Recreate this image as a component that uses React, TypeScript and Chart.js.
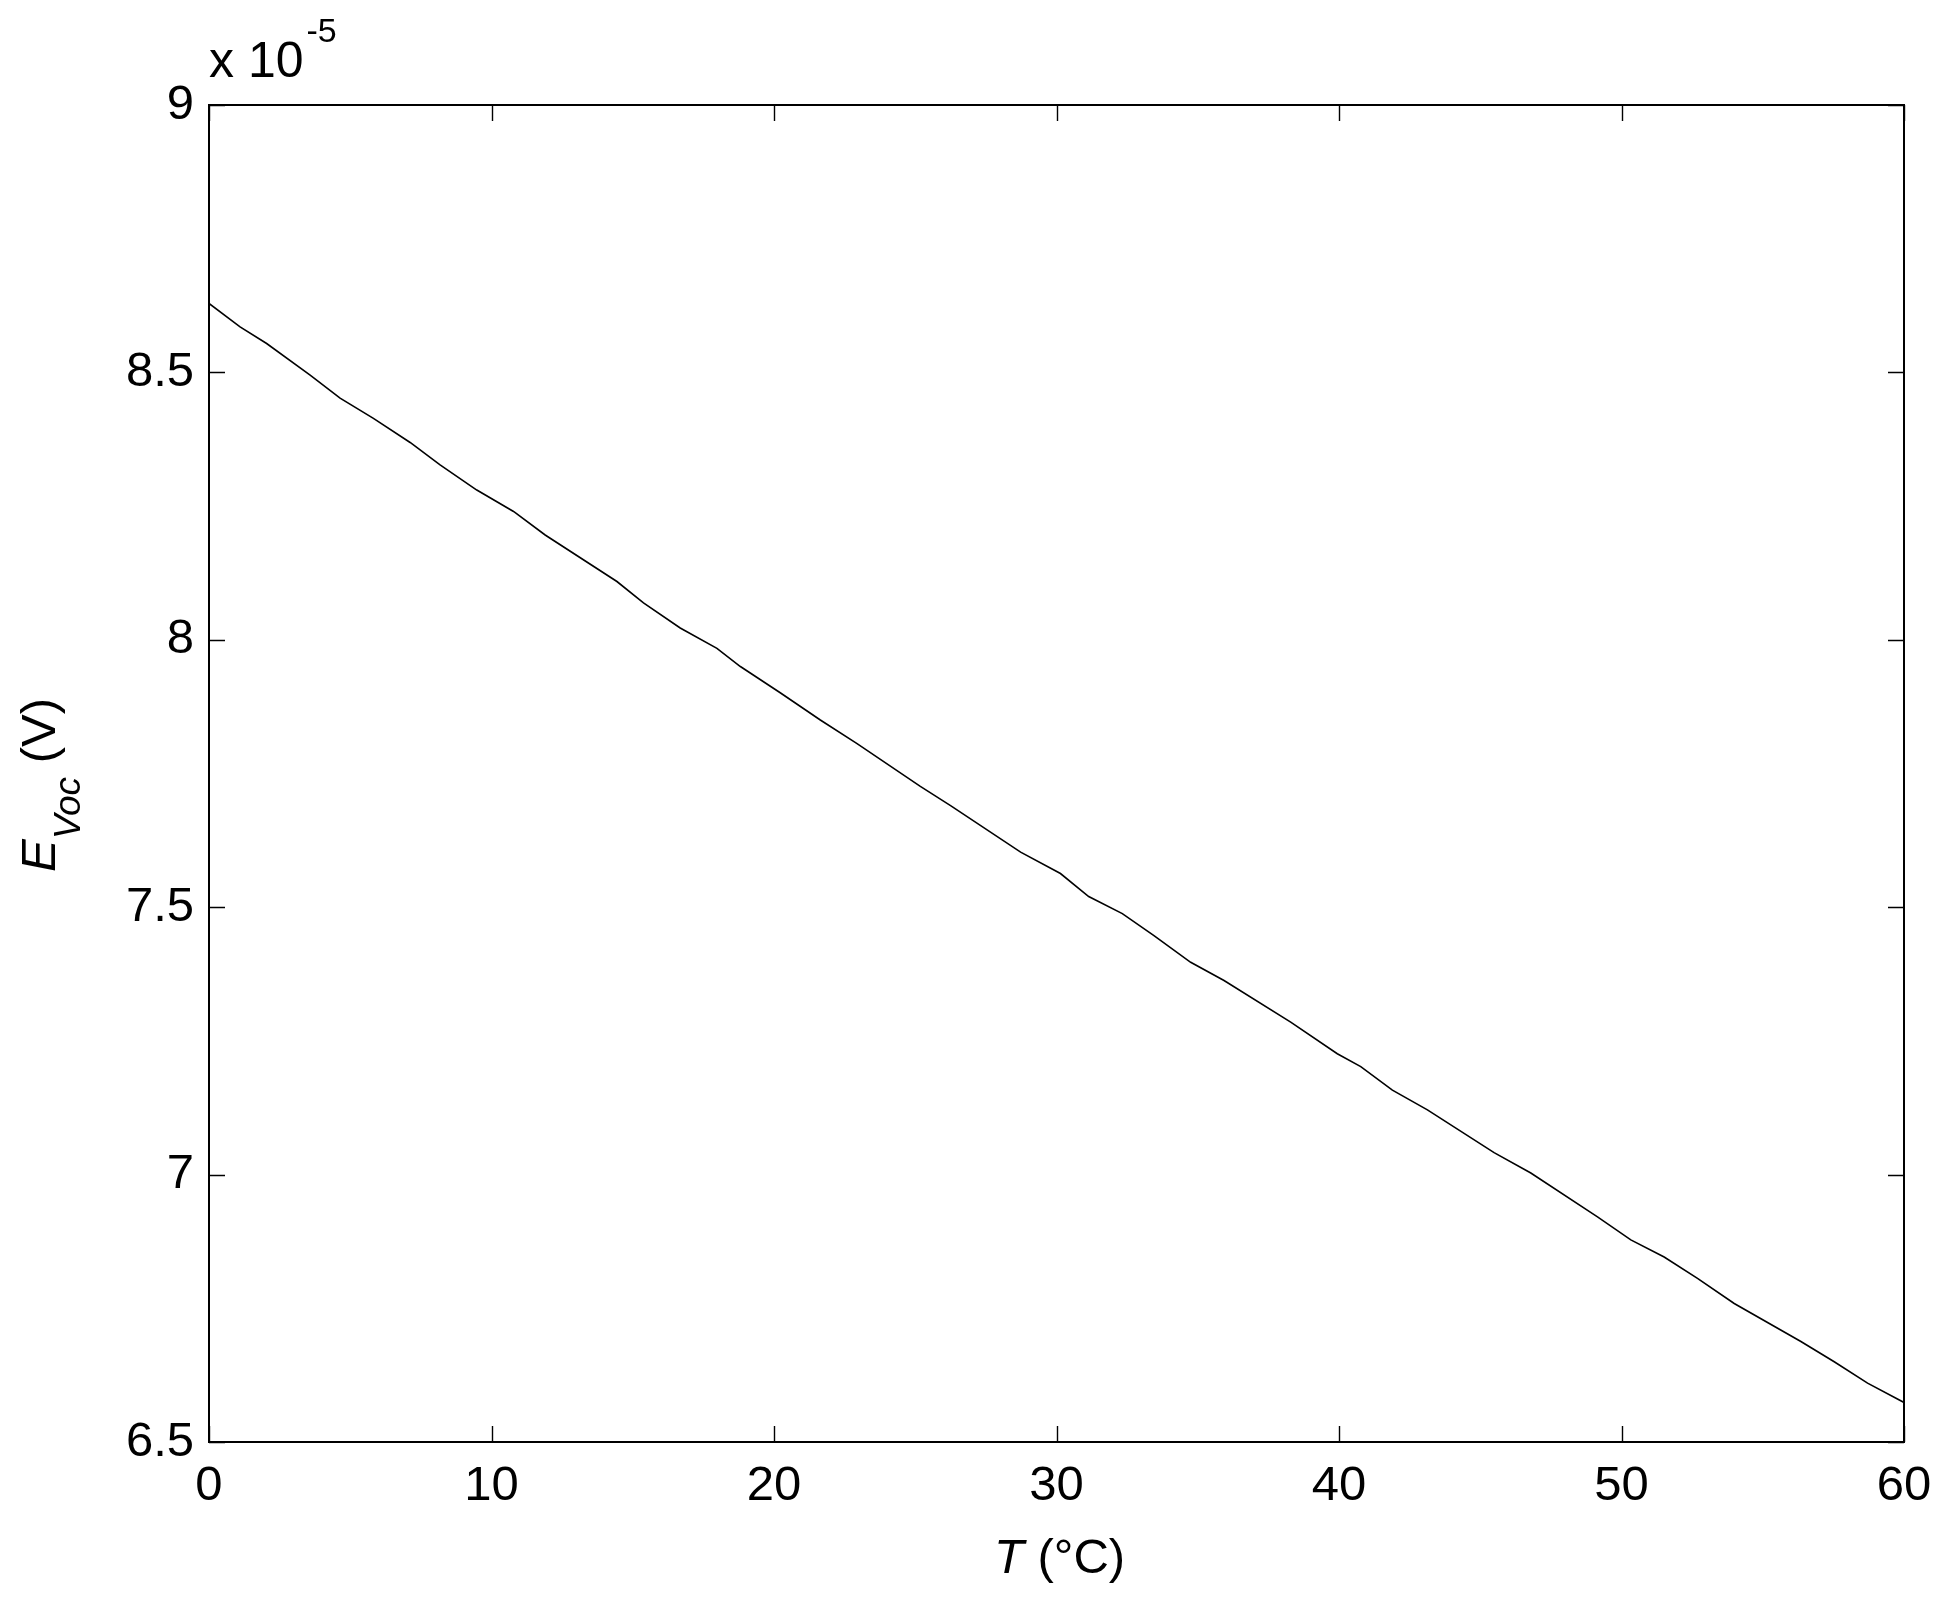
import React, { useEffect, useRef } from "react";
import { Chart, registerables } from "chart.js";

Chart.register(...registerables);

// Temperature T (°C)
const temperatures: number[] = [
  0, 1.1, 2.04, 3.58, 4.64, 5.82, 7.12, 8.18, 9.48, 10.78, 11.9, 14.44, 15.38,
  16.68, 17.98, 18.81, 20.22, 21.64, 22.94, 25.18, 26.25, 28.73, 30.14, 31.14,
  32.33, 33.45, 34.75, 35.93, 38.29, 39.94, 40.77, 41.89, 43.13, 45.49, 46.79,
  49.15, 50.33, 51.51, 52.69, 53.99, 56.35, 57.53, 58.71, 60,
];

// E_Voc in units of 1e-5 V
const eVoc: number[] = [
  8.629, 8.585, 8.554, 8.495, 8.452, 8.414, 8.369, 8.327, 8.28, 8.24, 8.196,
  8.109, 8.069, 8.022, 7.984, 7.95, 7.901, 7.85, 7.806, 7.726, 7.69, 7.603,
  7.563, 7.52, 7.488, 7.447, 7.397, 7.363, 7.285, 7.226, 7.202, 7.158, 7.121,
  7.041, 7.003, 6.921, 6.878, 6.846, 6.806, 6.759, 6.688, 6.65, 6.61, 6.574,
];

const xTickValues: number[] = [0, 10, 20, 30, 40, 50, 60];
const yTickValues: number[] = [6.5, 7, 7.5, 8, 8.5, 9];
const multiplierBase = "x 10";
const multiplierExp = "-5";

const FONT = '"Liberation Sans", Arial, Helvetica, sans-serif';

const framePlugin = {
  id: "matlabFrame",
  afterDraw(chart: any) {
    const ctx: CanvasRenderingContext2D = chart.ctx;
    const { left, right, top, bottom } = chart.chartArea;
    const xs = chart.scales.x;
    const ys = chart.scales.y;
    ctx.save();
    ctx.strokeStyle = "#000";
    ctx.fillStyle = "#000";

    // inward ticks on all four sides
    ctx.lineWidth = 1.4;
    const tl = 16;
    ctx.beginPath();
    xs.ticks.forEach((t: any) => {
      const px = Math.round(xs.getPixelForValue(t.value)) + 0.5;
      ctx.moveTo(px, bottom);
      ctx.lineTo(px, bottom - tl);
      ctx.moveTo(px, top);
      ctx.lineTo(px, top + tl);
    });
    ys.ticks.forEach((t: any) => {
      const py = Math.round(ys.getPixelForValue(t.value)) + 0.5;
      ctx.moveTo(left, py);
      ctx.lineTo(left + tl, py);
      ctx.moveTo(right, py);
      ctx.lineTo(right - tl, py);
    });
    ctx.stroke();

    // box
    ctx.lineWidth = 2;
    ctx.strokeRect(left, top, right - left, bottom - top);

    // multiplier
    ctx.textAlign = "left";
    ctx.textBaseline = "alphabetic";
    ctx.font = `50px ${FONT}`;
    ctx.fillText(multiplierBase, left, 77);
    const wBase = ctx.measureText(multiplierBase).width;
    ctx.font = `34px ${FONT}`;
    ctx.fillText(multiplierExp, left + wBase + 3, 42);

    // x title: T (°C)
    ctx.font = `italic 49px ${FONT}`;
    const wT = ctx.measureText("T").width;
    ctx.font = `49px ${FONT}`;
    const rest = " (°C)";
    const wRest = ctx.measureText(rest).width;
    const cx = (left + right) / 2 + 3;
    const startX = cx - (wT + wRest) / 2;
    ctx.font = `italic 49px ${FONT}`;
    ctx.fillText("T", startX, 1573);
    ctx.font = `49px ${FONT}`;
    ctx.fillText(rest, startX + wT, 1573);

    // y title: E_Voc (V)
    ctx.translate(55, 872);
    ctx.rotate(-Math.PI / 2);
    ctx.font = `italic 49px ${FONT}`;
    ctx.fillText("E", 0, 0);
    let x = ctx.measureText("E").width;
    ctx.font = `italic 37px ${FONT}`;
    ctx.fillText("Voc", x, 25);
    x += ctx.measureText("Voc").width;
    ctx.font = `49px ${FONT}`;
    ctx.fillText(" (V)", x, 0);

    ctx.restore();
  },
};

export default function App() {
  const canvasRef = useRef<HTMLCanvasElement | null>(null);

  useEffect(() => {
    if (!canvasRef.current) return;
    const points = temperatures.map((t, i) => ({ x: t, y: eVoc[i] }));
    const chart = new Chart(canvasRef.current, {
      type: "line",
      data: {
        datasets: [
          {
            data: points,
            borderColor: "#000",
            borderWidth: 1.6,
            pointRadius: 0,
            tension: 0,
            fill: false,
          },
        ],
      },
      options: {
        animation: false,
        responsive: false,
        devicePixelRatio: 1,
        events: [],
        layout: { padding: { left: 0, top: 105, right: 49, bottom: 0 } },
        plugins: {
          legend: { display: false },
          tooltip: { enabled: false },
          title: { display: false },
        },
        scales: {
          x: {
            type: "linear",
            min: 0,
            max: 60,
            afterBuildTicks: (scale: any) => {
              scale.ticks = xTickValues.map((v) => ({ value: v }));
            },
            afterFit: (scale: any) => {
              scale.height = 168;
            },
            grid: { display: false, drawTicks: false },
            border: { display: false },
            ticks: {
              color: "#000",
              padding: 15,
              maxRotation: 0,
              autoSkip: false,
              font: { family: FONT, size: 49 },
              callback: (value: any) => String(Number(value)),
            },
          },
          y: {
            type: "linear",
            min: 6.5,
            max: 9,
            afterBuildTicks: (scale: any) => {
              scale.ticks = yTickValues.map((v) => ({ value: v }));
            },
            afterFit: (scale: any) => {
              scale.width = 209;
            },
            grid: { display: false, drawTicks: false },
            border: { display: false },
            ticks: {
              color: "#000",
              padding: 15,
              autoSkip: false,
              font: { family: FONT, size: 49 },
              callback: (value: any) => String(Number(value)),
            },
          },
        },
      },
      plugins: [framePlugin],
    });
    return () => chart.destroy();
  }, []);

  return (
    <div style={{ position: "fixed", left: 0, top: 0, width: 1953, height: 1610, background: "#fff" }}>
      <canvas ref={canvasRef} width={1953} height={1610} style={{ display: "block" }} />
    </div>
  );
}
